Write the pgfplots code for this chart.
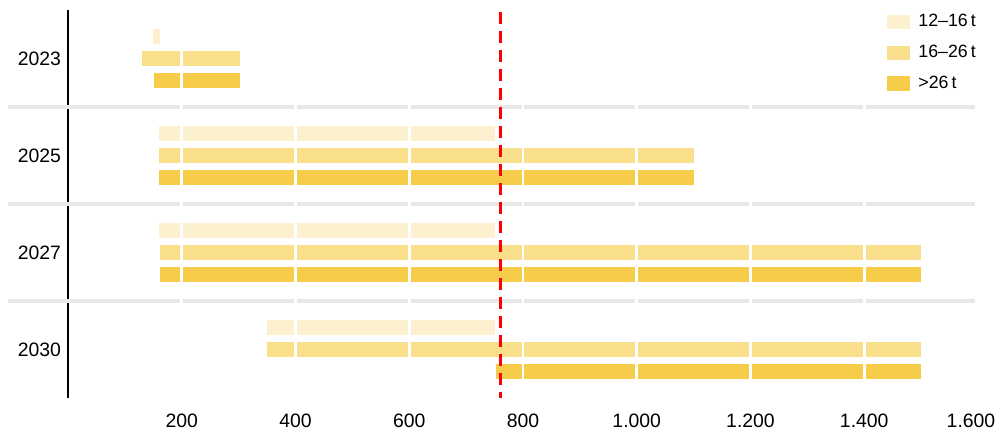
\documentclass[border=0pt]{standalone}
\usepackage{pgfplots}
\pgfplotsset{compat=1.18}
\usepackage{fontspec}
\setmainfont{Liberation Sans}
\definecolor{cA}{RGB}{253,240,206}
\definecolor{cB}{RGB}{249,223,140}
\definecolor{cC}{RGB}{246,204,74}
\definecolor{sepc}{RGB}{232,232,232}
\begin{document}
\begin{tikzpicture}
\begin{axis}[
  scale only axis, width=455pt, height=194pt,
  at={(0pt,0pt)}, anchor=south west,
  xmin=0, xmax=1600, ymin=-0.5, ymax=3.5, y dir=reverse,
  clip=false,
  axis x line*=bottom, axis y line*=left,
  axis line style={-},
  x axis line style={draw=none},
  y axis line style={black, line width=1pt},
  xtick={200,400,...,1400},
  extra x ticks={1600},
  extra x tick style={xticklabel style={xshift=-3.5pt}},
  ytick={0,1,2,3}, yticklabels={2023,2025,2027,2030},
  major tick length=0pt,
  tick label style={font=\fontsize{9.7}{11}\selectfont},
  xticklabel style={yshift=-4.4pt},
  /pgf/number format/assume math mode=true,
  /pgf/number format/1000 sep={.},
  unbounded coords=jump,
  legend image code/.code={\path[fill, draw=none] (0pt,-3.6pt) rectangle (11.5pt,3.6pt);},
  legend style={at={(axis description cs:0.9,1.0)}, anchor=north west,
    draw=none, fill=none, inner sep=0pt, row sep=3.6pt, column sep=2pt,
    font=\fontsize{8.9}{10}\selectfont},
  legend cell align=left,
]
% separators
\addplot[sepc, line width=1.6pt, forget plot] coordinates {(-105,0.5)(1595,0.5) (nan,nan) (-105,1.5)(1595,1.5) (nan,nan) (-105,2.5)(1595,2.5)};
% 12-16 t
\addplot[color=cA, line width=7.6pt, line cap=butt] coordinates {
 (150,-0.23)(162,-0.23) (nan,nan)
 (160,0.77)(750,0.77) (nan,nan)
 (160,1.77)(750,1.77) (nan,nan)
 (350,2.77)(750,2.77)};
\addlegendentry{12–16\,t}
% 16-26 t
\addplot[color=cB, line width=7.8pt, line cap=butt] coordinates {
 (130,0)(302,0) (nan,nan)
 (160,1)(1100,1) (nan,nan)
 (162,2)(1500,2) (nan,nan)
 (350,3)(1500,3)};
\addlegendentry{16–26\,t}
% >26 t
\addplot[color=cC, line width=7.8pt, line cap=butt] coordinates {
 (152,0.225)(302,0.225) (nan,nan)
 (160,1.225)(1100,1.225) (nan,nan)
 (162,2.225)(1500,2.225) (nan,nan)
 (752,3.225)(1500,3.225)};
\addlegendentry{>26\,t}
% white grid lines
\addplot[white, line width=1.3pt, forget plot] coordinates {
 (200,-0.5)(200,3.5) (nan,nan) (400,-0.5)(400,3.5) (nan,nan)
 (600,-0.5)(600,3.5) (nan,nan) (800,-0.5)(800,3.5) (nan,nan)
 (1000,-0.5)(1000,3.5) (nan,nan) (1200,-0.5)(1200,3.5) (nan,nan)
 (1400,-0.5)(1400,3.5)};
% red reference line
\addplot[red, line width=1.4pt, dash pattern=on 6pt off 3.5pt, forget plot] coordinates {(760,-0.48)(760,3.5)};
\end{axis}
\pgfresetboundingbox
\path[use as bounding box] ([shift={(-34pt,-16pt)}]current axis.south west) rectangle ([shift={(10.5pt,5pt)}]current axis.north east);
\end{tikzpicture}
\end{document}
